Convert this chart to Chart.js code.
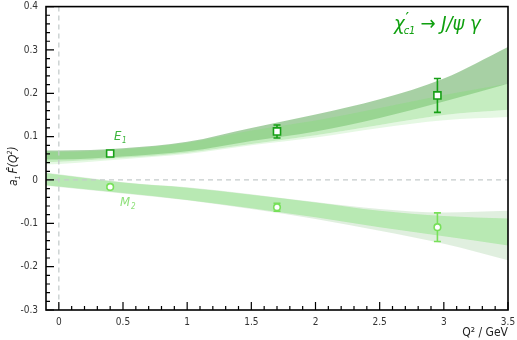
<!DOCTYPE html>
<html>
<head>
<meta charset="utf-8">
<script src="https://cdn.jsdelivr.net/npm/chart.js@4"></script>
<style>
  html, body { margin: 0; padding: 0; background: #fff; }
  canvas { display: block; }
</style>
</head>
<body>
<canvas id="chart" width="517" height="340"></canvas>
<script>
// grid of Q^2 values for the bands
const qGrid = [-0.1, 0, 0.5, 1, 1.5, 2, 2.5, 3, 3.5];

// E1 bands (upper grey-green, lower light green, faint fringe)
const e1UpperA = [0.068, 0.068, 0.073, 0.088, 0.120, 0.151, 0.186, 0.234, 0.307];
const e1LowerA = [0.047, 0.047, 0.054, 0.066, 0.090, 0.112, 0.143, 0.181, 0.222];
const e1UpperB = [0.065, 0.065, 0.071, 0.086, 0.114, 0.137, 0.166, 0.196, 0.222];
const e1LowerB = [0.041, 0.042, 0.051, 0.063, 0.083, 0.103, 0.127, 0.150, 0.162];
const e1LowerC = [0.036, 0.037, 0.048, 0.060, 0.080, 0.098, 0.120, 0.138, 0.145];

// M2 bands (core and wider fringe)
const m2UpperD = [0.016, 0.012, -0.006, -0.018, -0.034, -0.052, -0.071, -0.083, -0.089];
const m2LowerD = [-0.012, -0.015, -0.030, -0.046, -0.065, -0.086, -0.109, -0.130, -0.151];
const m2UpperE = [0.017, 0.013, -0.005, -0.017, -0.033, -0.051, -0.067, -0.075, -0.071];
const m2LowerE = [-0.013, -0.016, -0.031, -0.047, -0.067, -0.090, -0.117, -0.147, -0.185];

// lattice points
const qPoints = [0.4, 1.7, 2.95];
const e1Values = [0.061, 0.112, 0.195];
const e1Errors = [0.003, 0.015, 0.039];
const m2Values = [-0.016, -0.063, -0.109];
const m2Errors = [0.003, 0.009, 0.033];

const xTicks = [0, 0.5, 1, 1.5, 2, 2.5, 3, 3.5];
const yTicks = [-0.3, -0.2, -0.1, 0, 0.1, 0.2, 0.3, 0.4];

const FONT = '"Liberation Sans Narrow", "DejaVu Sans Condensed", "Open Sans", sans-serif';
const E1_COLOR = '#16a016';
const M2_COLOR = '#78e05a';

function pts(ys) {
  return qGrid.map((x, i) => ({ x, y: ys[i] }));
}

function band(upper, lower, color, order) {
  const common = { borderWidth: 0, pointRadius: 0, order, cubicInterpolationMode: 'monotone' };
  return [
    { ...common, data: pts(upper), fill: '+1', backgroundColor: color },
    { ...common, data: pts(lower), fill: false }
  ];
}

const datasets = [
  ...band(m2UpperE, m2LowerE, 'rgba(160,205,155,0.32)', 6),
  ...band(m2UpperD, m2LowerD, 'rgba(140,225,130,0.48)', 5),
  ...band(e1LowerB, e1LowerC, 'rgba(180,235,175,0.35)', 4),
  ...band(e1UpperA, e1LowerA, 'rgba(95,170,90,0.55)', 3),
  ...band(e1UpperB, e1LowerB, 'rgba(140,220,130,0.5)', 2),
  {
    label: 'E1', data: qPoints.map((x, i) => ({ x, y: e1Values[i] })), showLine: false,
    pointStyle: 'rect', pointRadius: 5, pointBorderWidth: 1.6,
    pointBorderColor: E1_COLOR, pointBackgroundColor: '#fff', order: 0, errors: e1Errors
  },
  {
    label: 'M2', data: qPoints.map((x, i) => ({ x, y: m2Values[i] })), showLine: false,
    pointStyle: 'circle', pointRadius: 3.3, pointBorderWidth: 1.6,
    pointBorderColor: M2_COLOR, pointBackgroundColor: '#fff', order: 1, errors: m2Errors
  }
];

// dashed zero lines, error bars, inward ticks, frame and labels
const decorations = {
  id: 'decorations',
  beforeDatasetDraw(chart, args) {
    const ds = chart.data.datasets[args.index];
    if (!ds.errors) return;
    const ctx = chart.ctx;
    const xs = chart.scales.x, ys = chart.scales.y;
    const area = chart.chartArea;
    if (ds.label === 'M2') {
      ctx.save();
      ctx.strokeStyle = '#c5cccc';
      ctx.lineWidth = 1.3;
      ctx.setLineDash([5, 4]);
      ctx.beginPath();
      ctx.moveTo(area.left, ys.getPixelForValue(0));
      ctx.lineTo(area.right, ys.getPixelForValue(0));
      ctx.moveTo(xs.getPixelForValue(0), area.top);
      ctx.lineTo(xs.getPixelForValue(0), area.bottom);
      ctx.stroke();
      ctx.restore();
    }
    ctx.save();
    ctx.strokeStyle = ds.pointBorderColor;
    ctx.lineWidth = 1.6;
    ds.data.forEach((p, i) => {
      const px = xs.getPixelForValue(p.x);
      const top = ys.getPixelForValue(p.y + ds.errors[i]);
      const bot = ys.getPixelForValue(p.y - ds.errors[i]);
      ctx.beginPath();
      ctx.moveTo(px, top); ctx.lineTo(px, bot);
      ctx.moveTo(px - 3.5, top); ctx.lineTo(px + 3.5, top);
      ctx.moveTo(px - 3.5, bot); ctx.lineTo(px + 3.5, bot);
      ctx.stroke();
    });
    ctx.restore();
  },
  afterDraw(chart) {
    const ctx = chart.ctx;
    const a = chart.chartArea;
    const xs = chart.scales.x, ys = chart.scales.y;
    ctx.save();
    ctx.strokeStyle = '#000';
    ctx.lineWidth = 1.2;
    ctx.beginPath();
    for (let k = -15; k <= 20; k++) {
      const py = ys.getPixelForValue(k * 0.02);
      const len = k % 5 === 0 ? 8 : 4;
      ctx.moveTo(a.left, py); ctx.lineTo(a.left + len, py);
    }
    for (let k = 0; k <= 35; k++) {
      const px = xs.getPixelForValue(k * 0.1);
      const len = k % 5 === 0 ? 8 : 4;
      ctx.moveTo(px, a.bottom); ctx.lineTo(px, a.bottom - len);
    }
    ctx.stroke();
    ctx.lineWidth = 1.6;
    ctx.strokeRect(a.left, a.top, a.right - a.left, a.bottom - a.top);

    // series labels
    ctx.textBaseline = 'alphabetic';
    ctx.fillStyle = '#3cb43c';
    ctx.font = 'italic 13px ' + FONT;
    ctx.fillText('E', 114, 140);
    ctx.font = 'italic 8px ' + FONT;
    ctx.fillText('1', 122, 143);
    ctx.fillStyle = '#8ee07a';
    ctx.font = 'italic 13px ' + FONT;
    ctx.fillText('M', 120, 206);
    ctx.font = 'italic 8px ' + FONT;
    ctx.fillText('2', 131, 209);

    // process title
    ctx.fillStyle = '#10a010';
    let x = 394;
    const base = 30;
    ctx.font = 'italic 20px ' + FONT;
    ctx.fillText('χ', x, base);
    x += ctx.measureText('χ').width;
    ctx.font = 'italic bold 13px ' + FONT;
    ctx.fillText('′', x + 1, base - 9);
    ctx.font = 'italic 11px ' + FONT;
    ctx.fillText('c1', x - 1, base + 4);
    x += ctx.measureText('c1').width + 4;
    ctx.font = 'italic 20px ' + FONT;
    ctx.fillText('→ J/ψ γ', x, base);

    // y title
    ctx.save();
    ctx.translate(17, 156);
    ctx.rotate(-Math.PI / 2);
    ctx.fillStyle = '#222';
    ctx.textAlign = 'left';
    let tx = -30;
    ctx.font = 'italic 12px ' + FONT;
    ctx.fillText('a', tx, 0);
    tx += ctx.measureText('a').width;
    ctx.font = 'italic 7px ' + FONT;
    ctx.fillText('1', tx, 3);
    tx += ctx.measureText('1').width + 2;
    ctx.font = 'italic 12px ' + FONT;
    ctx.fillText('F̂(Q', tx, 0);
    tx += ctx.measureText('F̂(Q').width;
    ctx.font = 'italic 7px ' + FONT;
    ctx.fillText('2', tx, -5);
    tx += ctx.measureText('2').width;
    ctx.font = 'italic 12px ' + FONT;
    ctx.fillText(')', tx, 0);
    ctx.restore();
    ctx.restore();
  }
};

new Chart(document.getElementById('chart'), {
  type: 'line',
  data: { datasets },
  options: {
    responsive: false,
    animation: false,
    devicePixelRatio: 1,
    layout: { padding: { top: 4, right: 9, left: 0, bottom: 0 } },
    plugins: { legend: { display: false }, tooltip: { enabled: false } },
    scales: {
      x: {
        type: 'linear', min: -0.1, max: 3.5,
        afterBuildTicks: s => { s.ticks = xTicks.map(v => ({ value: v })); },
        afterFit: s => { s.height = 30; s.paddingLeft = 0; s.paddingRight = 0; },
        grid: { display: false, drawTicks: false },
        border: { display: false },
        ticks: { color: '#333', font: { size: 10, family: FONT }, padding: 6, maxRotation: 0,
                 callback: v => String(+v.toFixed(1)) },
        title: { display: true, text: 'Q² / GeV', align: 'end', color: '#222',
                 font: { size: 12, family: FONT }, padding: 0 }
      },
      y: {
        type: 'linear', min: -0.3, max: 0.4,
        afterBuildTicks: s => { s.ticks = yTicks.map(v => ({ value: v })); },
        afterFit: s => { s.width = 46; s.paddingTop = 0; s.paddingBottom = 0; },
        grid: { display: false, drawTicks: false },
        border: { display: false },
        ticks: { color: '#333', font: { size: 10, family: FONT }, padding: 8,
                 callback: v => String(+v.toFixed(1)) }
      }
    }
  },
  plugins: [decorations]
});
</script>
</body>
</html>
